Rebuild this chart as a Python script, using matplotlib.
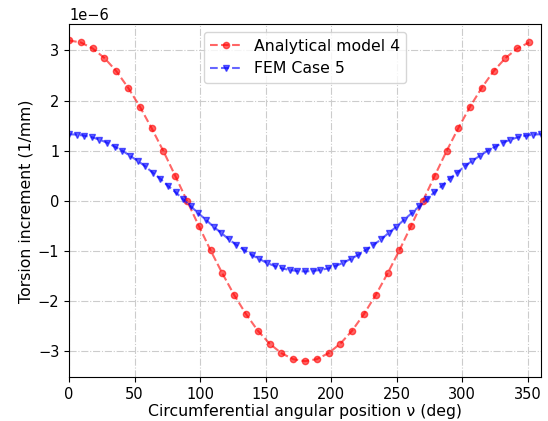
import numpy as np
import matplotlib
matplotlib.use("Agg")
import matplotlib.pyplot as plt

# Analytical model 4 (every 9 deg, 0..351)
ana_angle = list(range(0, 360, 9))
ana_vals = [3.20, 3.16, 3.04, 2.85, 2.59, 2.26, 1.88, 1.45, 0.99, 0.50,
            0.00, -0.50, -0.99, -1.45, -1.88, -2.26, -2.59, -2.85, -3.04, -3.16,
            -3.20, -3.16, -3.04, -2.85, -2.59, -2.26, -1.88, -1.45, -0.99, -0.50,
            0.00, 0.50, 0.99, 1.45, 1.88, 2.26, 2.59, 2.85, 3.04, 3.16]

# FEM Case 5 (63 nodes over 0..360)
fem_angle = list(np.linspace(0, 360, 63))
fem_half = [1.33, 1.32, 1.30, 1.27, 1.22, 1.16, 1.08, 1.00, 0.90, 0.80,
            0.69, 0.56, 0.44, 0.30, 0.17, 0.03, -0.11, -0.25, -0.38, -0.52,
            -0.64, -0.77, -0.88, -0.98, -1.08, -1.16, -1.24, -1.30, -1.35, -1.38,
            -1.40, -1.41]
fem_vals = fem_half + fem_half[-2::-1]

fig = plt.figure(figsize=(5.48, 4.21), dpi=100)
ax = fig.add_axes([0.126, 0.104, 0.861, 0.838])

ax.plot(ana_angle, np.array(ana_vals) * 1e-6, 'o--', color='red', alpha=0.6,
        markersize=4.5, label='Analytical model 4')
ax.plot(fem_angle, np.array(fem_vals) * 1e-6, 'v--', color='blue', alpha=0.6,
        markersize=4.5, label='FEM Case 5')

ax.set_xlim(0, 360)
ax.set_xticks([0, 50, 100, 150, 200, 250, 300, 350])
ax.set_yticks(np.array([-3, -2, -1, 0, 1, 2, 3]) * 1e-6)
ax.grid(True, linestyle='-.', color='#cccccc', linewidth=0.8)
ax.tick_params(labelsize=10.5)
ax.yaxis.get_offset_text().set_fontsize(10.5)
ax.set_xlabel('Circumferential angular position ν (deg)', fontsize=11.3, labelpad=1.5)
ax.set_ylabel('Torsion increment (1/mm)', fontsize=11.3, labelpad=3)
ax.legend(loc='upper center', fontsize=11.3)

fig.savefig('out.png', dpi=100)
